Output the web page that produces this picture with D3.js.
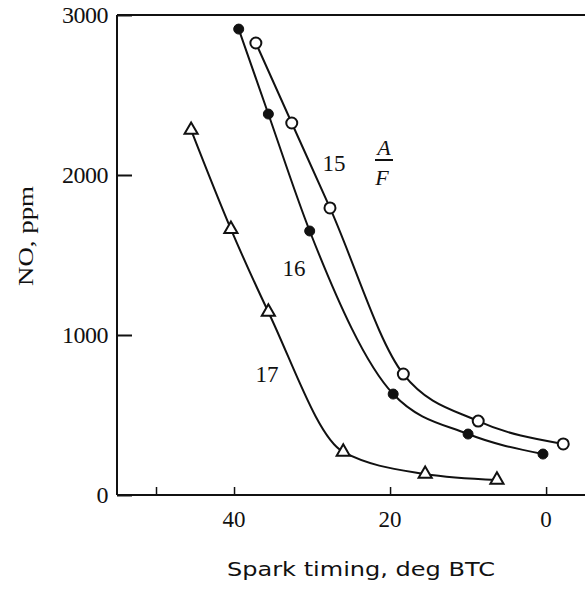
<!DOCTYPE html>
<html><head><meta charset="utf-8">
<script src="https://cdn.jsdelivr.net/npm/d3@7"></script>
<style>body{margin:0;background:#fff}svg{display:block}</style>
</head><body><svg id="c" width="585" height="594"></svg>
<script>
// Data (spark timing deg BTC, NO ppm)
const af15 = [[37.2,2825],[32.6,2325],[27.7,1794],[18.3,756],[8.7,462],[-2.2,319]];
const af16 = [[39.4,2912],[35.6,2381],[30.3,1650],[19.6,631],[10.0,381],[0.4,256]];
const af17 = [[45.5,2281],[40.4,1662],[35.6,1144],[26.0,269],[15.5,131],[6.3,94]];
const xTicks = [50,40,20,0];
const xTickLabels = [40,20,0];
const yTicks = [0,1000,2000,3000];

const svg = d3.select("#c");
const x = d3.scaleLinear().domain([55,-5.5]).range([117,589]);
const y = d3.scaleLinear().domain([0,3000]).range([495,15]);
const ink = "#111";
const serif = "'Liberation Serif', serif";

// frame: left, top and bottom lines
svg.append("line").attr("x1",x(55)).attr("x2",x(55)).attr("y1",y(0)).attr("y2",y(3000)).attr("stroke",ink).attr("stroke-width",2);
svg.append("line").attr("x1",x(55)).attr("x2",589).attr("y1",y(3000)).attr("y2",y(3000)).attr("stroke",ink).attr("stroke-width",2);
svg.append("line").attr("x1",x(55)).attr("x2",589).attr("y1",y(0)).attr("y2",y(0)).attr("stroke",ink).attr("stroke-width",2);

// y ticks (inward)
const ya = svg.append("g").attr("transform",`translate(${x(55)},0)`)
  .call(d3.axisRight(y).tickValues(yTicks).tickSize(15).tickFormat(""));
ya.select(".domain").remove();
ya.selectAll("line").attr("stroke",ink).attr("stroke-width",2);
svg.selectAll(".ylab").data(yTicks).enter().append("text")
  .attr("x",108).attr("y",d=>y(d)+8).attr("text-anchor","end")
  .attr("font-family",serif).attr("font-size",24).attr("letter-spacing",-0.5).attr("fill",ink).text(d=>d);

// x ticks (inward)
const xa = svg.append("g").attr("transform",`translate(0,${y(0)})`)
  .call(d3.axisTop(x).tickValues(xTicks).tickSize(8).tickFormat(""));
xa.select(".domain").remove();
xa.selectAll("line").attr("stroke",ink).attr("stroke-width",1.5);
svg.selectAll(".xlab").data(xTickLabels).enter().append("text")
  .attr("x",d=>x(d)).attr("y",527).attr("text-anchor","middle")
  .attr("font-family",serif).attr("font-size",23).attr("fill",ink).text(d=>d);

// titles
svg.append("text").attr("x",227).attr("y",576).attr("font-family","'DejaVu Sans', sans-serif")
  .attr("font-size",20).attr("textLength",268).attr("lengthAdjust","spacingAndGlyphs").attr("fill",ink)
  .text("Spark timing, deg BTC");
svg.append("text").attr("transform","translate(33,236) rotate(-90)").attr("text-anchor","middle")
  .attr("font-family",serif).attr("font-size",22).attr("textLength",100).attr("lengthAdjust","spacingAndGlyphs")
  .attr("fill",ink).text("NO, ppm");

// curves
const line = d3.line().x(d=>x(d[0])).y(d=>y(d[1])).curve(d3.curveMonotoneX);
[af15,af16,af17].forEach(s=>{
  svg.append("path").attr("d",line(s)).attr("fill","none").attr("stroke",ink).attr("stroke-width",2);
});

// markers
svg.selectAll(".m15").data(af15).enter().append("circle")
  .attr("cx",d=>x(d[0])).attr("cy",d=>y(d[1])).attr("r",5.5)
  .attr("fill","#fff").attr("stroke",ink).attr("stroke-width",2);
svg.selectAll(".m16").data(af16).enter().append("circle")
  .attr("cx",d=>x(d[0])).attr("cy",d=>y(d[1])).attr("r",5)
  .attr("fill",ink).attr("stroke",ink).attr("stroke-width",1);
const tri = d3.symbol().type(d3.symbolTriangle).size(75);
svg.selectAll(".m17").data(af17).enter().append("path")
  .attr("d",tri).attr("transform",d=>`translate(${x(d[0])},${y(d[1])})`)
  .attr("fill","#fff").attr("stroke",ink).attr("stroke-width",2);

// labels
const lab = (t,cx,cy,size)=>svg.append("text").attr("x",cx).attr("y",cy).attr("text-anchor","middle")
  .attr("font-family",serif).attr("font-size",size||23).attr("fill",ink).text(t);
lab("15",334,171);
lab("16",294,276);
lab("17",267,382);
svg.append("text").attr("x",384).attr("y",155).attr("text-anchor","middle").attr("font-family",serif)
  .attr("font-style","italic").attr("font-size",22).attr("fill",ink).text("A");
svg.append("line").attr("x1",375).attr("x2",393).attr("y1",160).attr("y2",160).attr("stroke",ink).attr("stroke-width",2);
svg.append("text").attr("x",382).attr("y",185).attr("text-anchor","middle").attr("font-family",serif)
  .attr("font-style","italic").attr("font-size",22).attr("fill",ink).text("F");
</script></body></html>
